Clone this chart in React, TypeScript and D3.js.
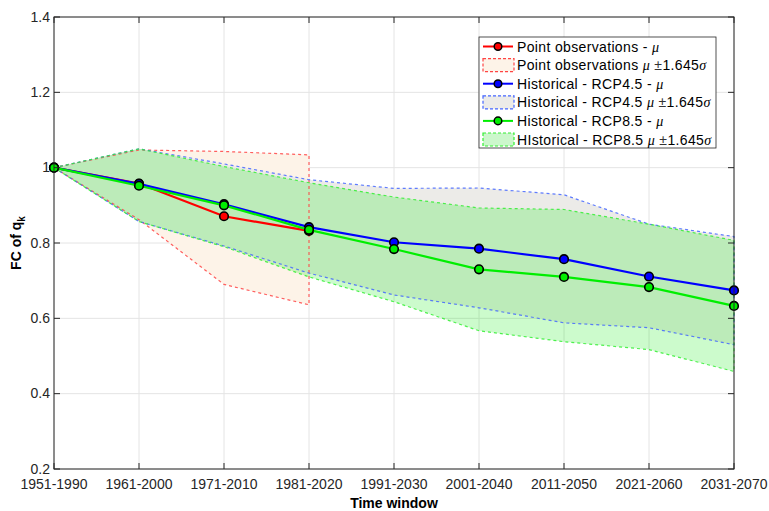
import React from "react";
import * as d3 from "d3";

const windows = [
  "1951-1990", "1961-2000", "1971-2010", "1981-2020", "1991-2030",
  "2001-2040", "2011-2050", "2021-2060", "2031-2070",
];
const yTicks = [0.2, 0.4, 0.6, 0.8, 1.0, 1.2, 1.4];

// point observations only cover the first four windows
const obsMean = [1.0, 0.958, 0.871, 0.832];
const obsUpper = [1.0, 1.047, 1.043, 1.034];
const obsLower = [1.0, 0.862, 0.69, 0.636];

const rcp45Mean = [1.0, 0.957, 0.903, 0.842, 0.802, 0.785, 0.757, 0.711, 0.674];
const rcp45Upper = [1.0, 1.05, 1.01, 0.968, 0.945, 0.946, 0.928, 0.85, 0.817];
const rcp45Lower = [1.0, 0.857, 0.792, 0.72, 0.662, 0.628, 0.588, 0.575, 0.53];

const rcp85Mean = [1.0, 0.952, 0.9, 0.835, 0.784, 0.73, 0.71, 0.683, 0.633];
const rcp85Upper = [1.0, 1.05, 1.003, 0.96, 0.922, 0.893, 0.889, 0.85, 0.807];
const rcp85Lower = [1.0, 0.857, 0.79, 0.71, 0.644, 0.567, 0.538, 0.517, 0.459];

const width = 769;
const height = 511;
const margin = { top: 17, left: 54, right: 35, bottom: 42 };
const font = "'Liberation Sans', Arial, sans-serif";
const serif = "'Liberation Serif', 'DejaVu Serif', serif";

export default function App() {
  const x = d3
    .scalePoint<string>()
    .domain(windows)
    .range([margin.left, width - margin.right]);
  const y = d3
    .scaleLinear()
    .domain([0.2, 1.4])
    .range([height - margin.bottom, margin.top]);

  const line = d3
    .line<number>()
    .x((_, i) => x(windows[i])!)
    .y(d => y(d));

  const band = (upper: number[], lower: number[]) => {
    const pts: [number, number][] = upper.map((v, i) => [x(windows[i])!, y(v)]);
    for (let i = lower.length - 1; i >= 0; i--) pts.push([x(windows[i])!, y(lower[i])]);
    return d3.line()(pts) + "Z";
  };

  const x0 = margin.left;
  const x1 = width - margin.right;
  const y0 = height - margin.bottom;
  const y1 = margin.top;

  const bands = [
    { up: obsUpper, lo: obsLower, fill: "#fdf3e8", stroke: "#ff4444" },
    { up: rcp45Upper, lo: rcp45Lower, fill: "#ecebe8", stroke: "#4466ff" },
    { up: rcp85Upper, lo: rcp85Lower, fill: "rgba(0,235,0,0.2)", stroke: "#33ee33" },
  ];
  const means = [
    { v: obsMean, color: "#ff0000" },
    { v: rcp45Mean, color: "#0000ff" },
    { v: rcp85Mean, color: "#00ee00" },
  ];

  const legend = [
    { kind: "line", color: "#ff0000", text: "Point observations - " },
    { kind: "patch", fill: "#fdf3e8", stroke: "#ff4444", text: "Point observations " },
    { kind: "line", color: "#0000ff", text: "Historical - RCP4.5 - " },
    { kind: "patch", fill: "#ecebe8", stroke: "#4466ff", text: "Historical - RCP4.5 " },
    { kind: "line", color: "#00ee00", text: "Historical - RCP8.5 - " },
    { kind: "patch", fill: "#ccf7cc", stroke: "#33ee33", text: "HIstorical - RCP8.5 " },
  ];
  const lgX = 479;
  const lgY = 37;
  const lgW = 237;
  const lgH = 111;
  const rowH = 18.6;

  return (
    <svg width={width} height={height} style={{ position: "absolute", left: 0, top: 0 }}>
      <rect x={0} y={0} width={width} height={height} fill="#fff" />
      {/* grid */}
      {windows.map(w => (
        <line key={w} x1={x(w)} x2={x(w)} y1={y0} y2={y1} stroke="#e4e4e4" strokeWidth={1} />
      ))}
      {yTicks.map(t => (
        <line key={t} x1={x0} x2={x1} y1={y(t)} y2={y(t)} stroke="#e4e4e4" strokeWidth={1} />
      ))}
      {/* uncertainty bands */}
      {bands.map((b, i) => (
        <path key={"f" + i} d={band(b.up, b.lo)} fill={b.fill} stroke="none" />
      ))}
      {bands.map((b, i) => (
        <path
          key={"s" + i}
          d={band(b.up, b.lo)}
          fill="none"
          stroke={b.stroke}
          strokeOpacity={0.85}
          strokeWidth={1.2}
          strokeDasharray="3,3"
        />
      ))}
      {/* means */}
      {means.map((m, i) => (
        <g key={"m" + i}>
          <path d={line(m.v)!} fill="none" stroke={m.color} strokeWidth={2.2} />
          {m.v.map((v, j) => (
            <circle key={j} cx={x(windows[j])} cy={y(v)} r={4.3} fill={m.color} stroke="#000" strokeWidth={1.6} />
          ))}
        </g>
      ))}
      {/* box and ticks */}
      <rect x={x0} y={y1} width={x1 - x0} height={y0 - y1} fill="none" stroke="#262626" strokeWidth={1} />
      {windows.map(w => (
        <g key={"xt" + w}>
          <line x1={x(w)} x2={x(w)} y1={y0} y2={y0 - 6} stroke="#262626" />
          <line x1={x(w)} x2={x(w)} y1={y1} y2={y1 + 6} stroke="#262626" />
          <text x={x(w)} y={y0 + 20} textAnchor="middle" fontFamily={font} fontSize={14} fill="#262626">
            {w}
          </text>
        </g>
      ))}
      {yTicks.map(t => (
        <g key={"yt" + t}>
          <line x1={x0} x2={x0 + 6} y1={y(t)} y2={y(t)} stroke="#262626" />
          <line x1={x1} x2={x1 - 6} y1={y(t)} y2={y(t)} stroke="#262626" />
          <text x={x0 - 4} y={y(t) + 4.5} textAnchor="end" fontFamily={font} fontSize={14} fill="#262626">
            {t === 1 ? "1" : d3.format(".1f")(t)}
          </text>
        </g>
      ))}
      <text x={(x0 + x1) / 2} y={508} textAnchor="middle" fontFamily={font} fontSize={14} fontWeight="bold" fill="#000">
        Time window
      </text>
      <text
        transform={`translate(21,${(y0 + y1) / 2}) rotate(-90)`}
        textAnchor="middle"
        fontFamily={font}
        fontSize={14}
        fontWeight="bold"
        fill="#000"
      >
        FC of q<tspan fontSize={10} dy={4}>k</tspan>
      </text>
      {/* legend */}
      <rect x={lgX} y={lgY} width={lgW} height={lgH} fill="#fff" stroke="#262626" strokeWidth={0.8} />
      {legend.map((e, i) => {
        const cy = lgY + 9.5 + i * rowH;
        return (
          <g key={"lg" + i}>
            {e.kind === "line" ? (
              <g>
                <line x1={lgX + 4} x2={lgX + 34} y1={cy} y2={cy} stroke={e.color} strokeWidth={2} />
                <circle cx={lgX + 19} cy={cy} r={3.8} fill={e.color} stroke="#000" strokeWidth={1.5} />
              </g>
            ) : (
              <rect
                x={lgX + 4}
                y={cy - 6.5}
                width={31}
                height={13}
                fill={e.fill}
                stroke={e.stroke}
                strokeWidth={1.2}
                strokeDasharray="3,2"
              />
            )}
            <text x={lgX + 38} y={cy + 5} fontFamily={font} fontSize={14} letterSpacing={0.35} fill="#000">
              {e.text}
              <tspan fontFamily={serif} fontStyle="italic">μ</tspan>
              {e.kind === "patch" ? (
                <>
                  <tspan fill="#333"> ±</tspan>
                  <tspan>1.645</tspan>
                  <tspan fontFamily={serif} fontStyle="italic">σ</tspan>
                </>
              ) : null}
            </text>
          </g>
        );
      })}
    </svg>
  );
}
